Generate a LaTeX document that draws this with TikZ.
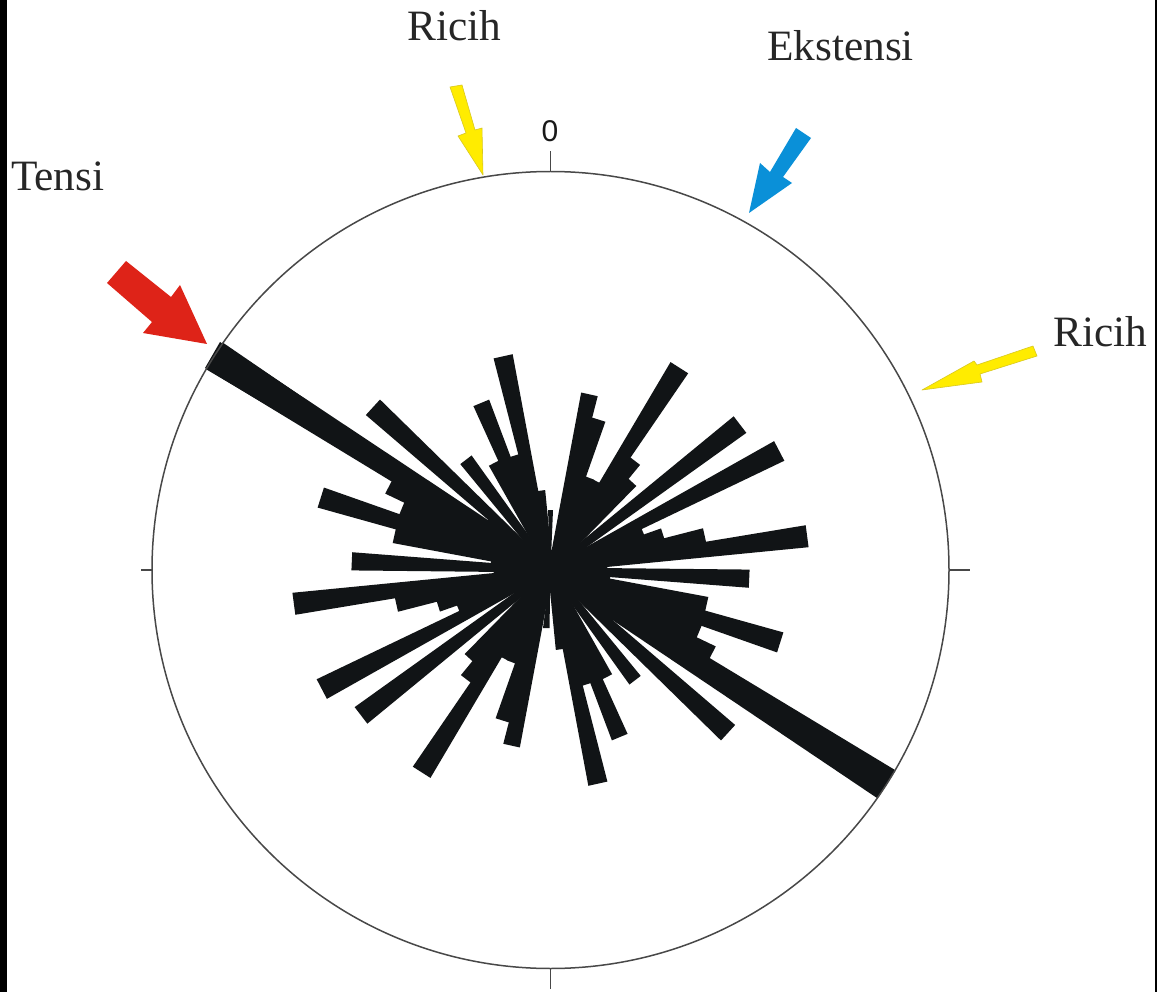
\documentclass[tikz,border=0pt]{standalone}
\usepackage{fontspec}
\setmainfont{Liberation Serif}
\newfontfamily\zerofont{Liberation Sans}
\definecolor{petalblack}{HTML}{111416}
\definecolor{ringgray}{HTML}{484848}
\definecolor{arrowred}{HTML}{DE2318}
\definecolor{arrowblue}{HTML}{0A90D8}
\definecolor{arrowyellow}{HTML}{FFEC00}
\definecolor{arrowyedge}{HTML}{D8C820}
\tikzset{
  petal/.style={fill=petalblack,draw=petalblack,line width=5pt,line join=miter},
  strip/.style={fill=petalblack,draw=none},
  ring/.style={draw=ringgray,line width=1.5pt},
  label/.style={inner sep=0pt,anchor=base west,text=black!85,font=\fontsize{43.3}{43.3}\selectfont},
  redarrow/.style={fill=arrowred,draw=none},
  bluearrow/.style={fill=arrowblue,draw=none},
  yellowarrow/.style={fill=arrowyellow,draw=arrowyedge,line width=0.6pt,line join=round},
}
\begin{document}
\begin{tikzpicture}[x=1pt,y=-1pt]
\useasboundingbox (0,0) rectangle (1157,992);
\fill[white] (0,0) rectangle (1157,992);
\fill[black] (0,0) rectangle (7,992);
\fill[black] (1155,0) rectangle (1157,992);
\def\cx{550.5}\def\cy{570}
\foreach \a/\r in {0/20,5/20,10/180,15/158,20/100,25/100,30/240,35/138,40/120,45/17,
  50/239,55/39,60/258,65/100,70/118,75/158,80/259,85/57,90/199,95/60,100/160,105/241,
  110/161,115/182,120/399,125/80,130/241,135/40,140/139,145/39,150/121,155/181,160/120,
  165/219,170/80,175/20}{
  \pgfmathsetmacro{\q}{\r-2.5}
  \pgfmathsetmacro{\u}{\a+0.6}
  \pgfmathsetmacro{\v}{\a+4.4}
  \filldraw[petal] (\cx,\cy)
    -- ({\cx+\q*sin(\u)},{\cy-\q*cos(\u)})
    -- ({\cx+\q*sin(\v)},{\cy-\q*cos(\v)}) -- cycle;
  \filldraw[petal] (\cx,\cy)
    -- ({\cx-\q*sin(\u)},{\cy+\q*cos(\u)})
    -- ({\cx-\q*sin(\v)},{\cy+\q*cos(\v)}) -- cycle;
}
% the longest petal is fuller along its length
\fill[strip] (205,368) -- (220,342) -- (554,564) -- (547,576) -- cycle;
\fill[strip] (895,770) -- (877,798) -- (547,576) -- (554,564) -- cycle;
\fill[strip] (\cx,\cy) -- (548,510) -- (553,510) -- cycle;
\fill[strip] (\cx,\cy) -- (543,628) -- (549.5,628) -- cycle;
\fill[strip] (\cx,\cy) circle[radius=20];
\draw[ring] (\cx,\cy) circle[radius=398.5];
\draw[ring] (\cx,172) -- (\cx,151);
\draw[ring] (\cx,968) -- (\cx,989);
\draw[ring] (152,\cy) -- (141,\cy);
\draw[ring] (949,\cy) -- (970,\cy);
\node[inner sep=0pt,text=black!90] (zero) at (550,131) {\zerofont\fontsize{30}{30}\selectfont 0};
\node[label] (ricihtop) at (407,41) {Ricih};
\node[label] (ekstensi) at (767,61) {Ekstensi};
\node[label] (tensi) at (11,191) {Tensi};
\node[label] (ricihright) at (1053,347) {Ricih};
\fill[redarrow] (126,261) -- (107,283) -- (152,322) -- (143,333) -- (207,344) -- (180,285) -- (171,297) -- cycle;
\fill[bluearrow] (796,128) -- (811,138) -- (783,177) -- (792,183) -- (749,213) -- (760,163) -- (770,172) -- cycle;
\filldraw[yellowarrow] (450,87) -- (462,85) -- (475,130) -- (482,128) -- (483,175) -- (458,136) -- (466,133) -- cycle;
\filldraw[yellowarrow] (1033,346) -- (1037,356) -- (980,374) -- (982,382) -- (922,390) -- (974,361) -- (977,365) -- cycle;
\end{tikzpicture}
\end{document}
